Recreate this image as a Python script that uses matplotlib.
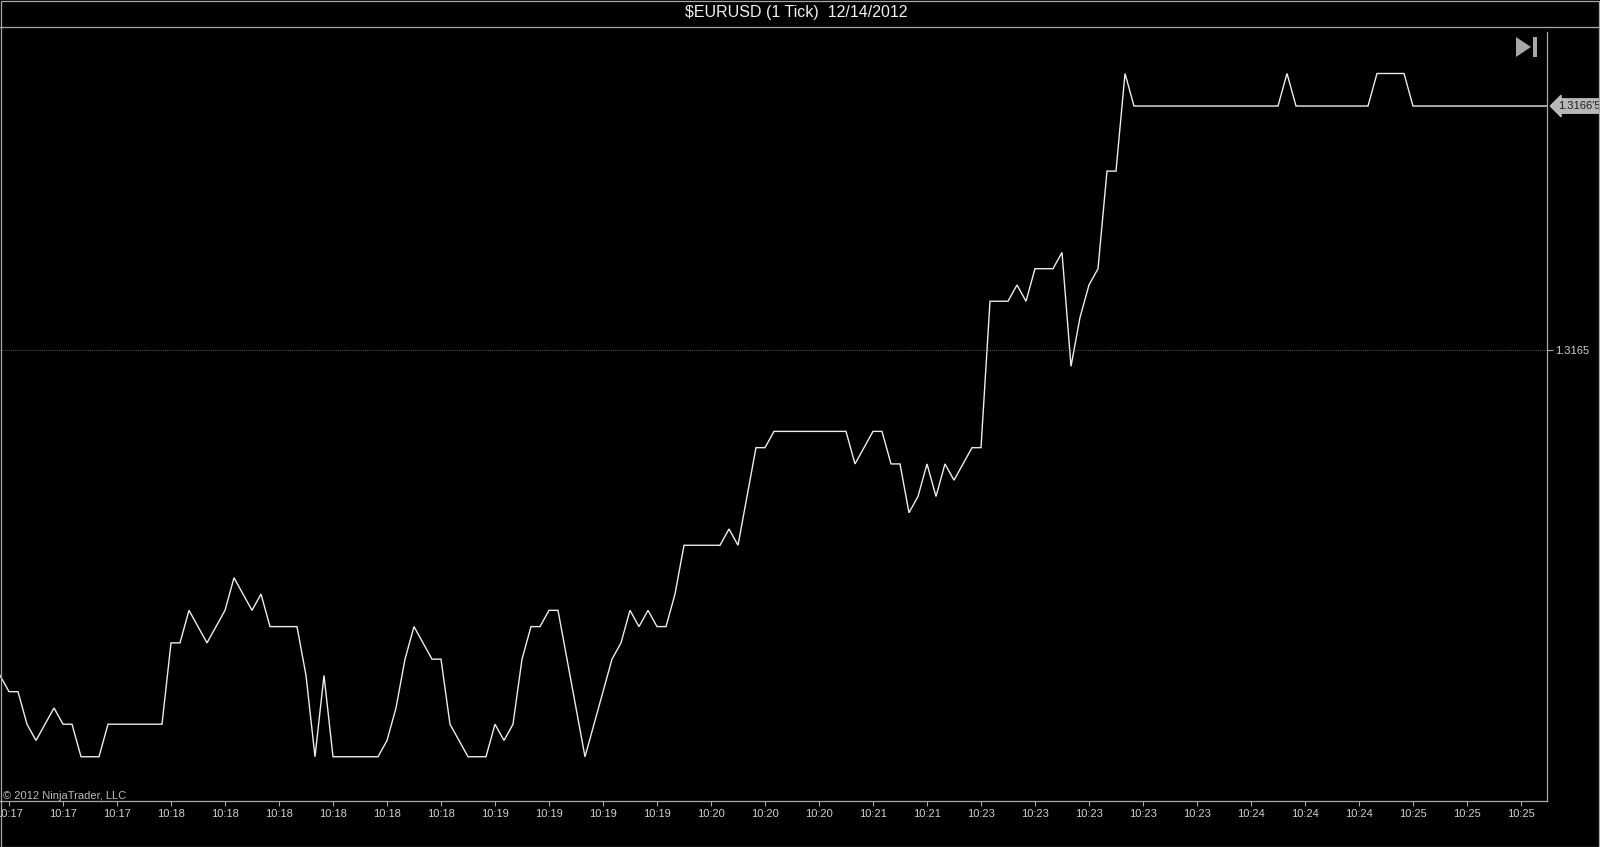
"""NinjaTrader style 1-tick EURUSD chart."""

import matplotlib

matplotlib.use("Agg")

import matplotlib.pyplot as plt
from matplotlib.lines import Line2D
from matplotlib.patches import Polygon, Rectangle

# price per tick, 0.00001 steps
prices = [
    1.31630, 1.31629, 1.31629, 1.31627, 1.31626, 1.31627, 1.31628, 1.31627,
    1.31627, 1.31625, 1.31625, 1.31625, 1.31627, 1.31627, 1.31627, 1.31627,
    1.31627, 1.31627, 1.31627, 1.31632, 1.31632, 1.31634, 1.31633, 1.31632,
    1.31633, 1.31634, 1.31636, 1.31635, 1.31634, 1.31635, 1.31633, 1.31633,
    1.31633, 1.31633, 1.31630, 1.31625, 1.31630, 1.31625, 1.31625, 1.31625,
    1.31625, 1.31625, 1.31625, 1.31626, 1.31628, 1.31631, 1.31633, 1.31632,
    1.31631, 1.31631, 1.31627, 1.31626, 1.31625, 1.31625, 1.31625, 1.31627,
    1.31626, 1.31627, 1.31631, 1.31633, 1.31633, 1.31634, 1.31634, 1.31631,
    1.31628, 1.31625, 1.31627, 1.31629, 1.31631, 1.31632, 1.31634, 1.31633,
    1.31634, 1.31633, 1.31633, 1.31635, 1.31638, 1.31638, 1.31638, 1.31638,
    1.31638, 1.31639, 1.31638, 1.31641, 1.31644, 1.31644, 1.31645, 1.31645,
    1.31645, 1.31645, 1.31645, 1.31645, 1.31645, 1.31645, 1.31645, 1.31643,
    1.31644, 1.31645, 1.31645, 1.31643, 1.31643, 1.31640, 1.31641, 1.31643,
    1.31641, 1.31643, 1.31642, 1.31643, 1.31644, 1.31644, 1.31653, 1.31653,
    1.31653, 1.31654, 1.31653, 1.31655, 1.31655, 1.31655, 1.31656, 1.31649,
    1.31652, 1.31654, 1.31655, 1.31661, 1.31661, 1.31667, 1.31665, 1.31665,
    1.31665, 1.31665, 1.31665, 1.31665, 1.31665, 1.31665, 1.31665, 1.31665,
    1.31665, 1.31665, 1.31665, 1.31665, 1.31665, 1.31665, 1.31665, 1.31667,
    1.31665, 1.31665, 1.31665, 1.31665, 1.31665, 1.31665, 1.31665, 1.31665,
    1.31665, 1.31667, 1.31667, 1.31667, 1.31667, 1.31665, 1.31665, 1.31665,
    1.31665, 1.31665, 1.31665, 1.31665, 1.31665, 1.31665, 1.31665, 1.31665,
    1.31665, 1.31665, 1.31665, 1.31665, 1.31665,
]

time_labels = (
    ["10:17"] * 3 + ["10:18"] * 6 + ["10:19"] * 4 + ["10:20"] * 3
    + ["10:21"] * 2 + ["10:23"] * 5 + ["10:24"] * 3 + ["10:25"] * 3
)
tick_bars = [1 + 6 * k for k in range(len(time_labels))]

price_ticks = [1.3165]
last_label = "1.3166'5"
title = "\\$EURUSD (1 Tick)  12/14/2012"

W, H = 1600, 847
FG = "#a8a8a8"
TXT = "#d0d0d0"

plt.rcParams["font.family"] = ["Liberation Sans", "DejaVu Sans"]

fig = plt.figure(figsize=(W / 100, H / 100), dpi=100, facecolor="black")


def fx(px):
    return px / W


def fy(py):
    return 1 - py / H


ax = fig.add_axes([0, fy(801), fx(1547), fy(32) - fy(801)], facecolor="black")
bars = list(range(len(prices)))
ax.plot(bars, prices, color="#ececec", linewidth=1.0, solid_joinstyle="miter")

ax.set_xlim(0, 1547 / 9)
ax.set_ylim(1.3165 - 27.72e-5, 1.3165 + 19.55e-5)

ax.set_xticks(tick_bars)
ax.set_xticklabels(time_labels)
ax.yaxis.tick_right()
ax.set_yticks(price_ticks)
ax.set_yticklabels([f"{p:.4f}" for p in price_ticks])
ax.tick_params(axis="x", colors=FG, labelcolor=TXT, length=3.8, width=0.8,
               pad=2, labelsize=8)
ax.tick_params(axis="y", colors=FG, labelcolor=TXT, length=4.3, width=0.8,
               pad=1.5, labelsize=8)
for p in price_ticks:
    ax.axhline(p, color="#7a7a7a", linewidth=0.6, linestyle=(0, (1, 1.5)))

for side in ("left", "top"):
    ax.spines[side].set_visible(False)
for side in ("right", "bottom"):
    ax.spines[side].set_color(FG)
    ax.spines[side].set_linewidth(0.9)

ax.text(0.002, 0.0, "\u00a9 2012 NinjaTrader, LLC", transform=ax.transAxes,
        color="#bdbdbd", fontsize=8, ha="left", va="bottom")

# last price marker
ax.annotate(last_label, xy=(1.0, prices[-1]), xycoords=("axes fraction", "data"),
            xytext=(8, 0), textcoords="offset points", ha="left", va="center",
            color="#1e1e1e", fontsize=8, annotation_clip=False,
            bbox=dict(boxstyle="larrow,pad=0.2", fc="#b8b8b8", ec="#b8b8b8"))

# title and frame
fig.text(fx(796), fy(13), title, color="#f0f0f0", fontsize=11.5,
         ha="center", va="center")
fig.add_artist(Line2D([0, 1], [fy(27), fy(27)], color=FG, linewidth=0.9))
fig.add_artist(Rectangle((fx(0.5), fy(846.5)), fx(1599) - fx(0.5),
                         fy(0.5) - fy(846.5), fill=False, ec=FG, lw=0.9))

# scroll-to-end icon
fig.add_artist(Polygon([(fx(1516), fy(37)), (fx(1516), fy(57)), (fx(1531), fy(47))],
                       closed=True, fc=FG, ec="none"))
fig.add_artist(Rectangle((fx(1533), fy(57)), fx(4), fy(37) - fy(57),
                         fc=FG, ec="none"))

fig.savefig("out.png", dpi=100, facecolor="black")
